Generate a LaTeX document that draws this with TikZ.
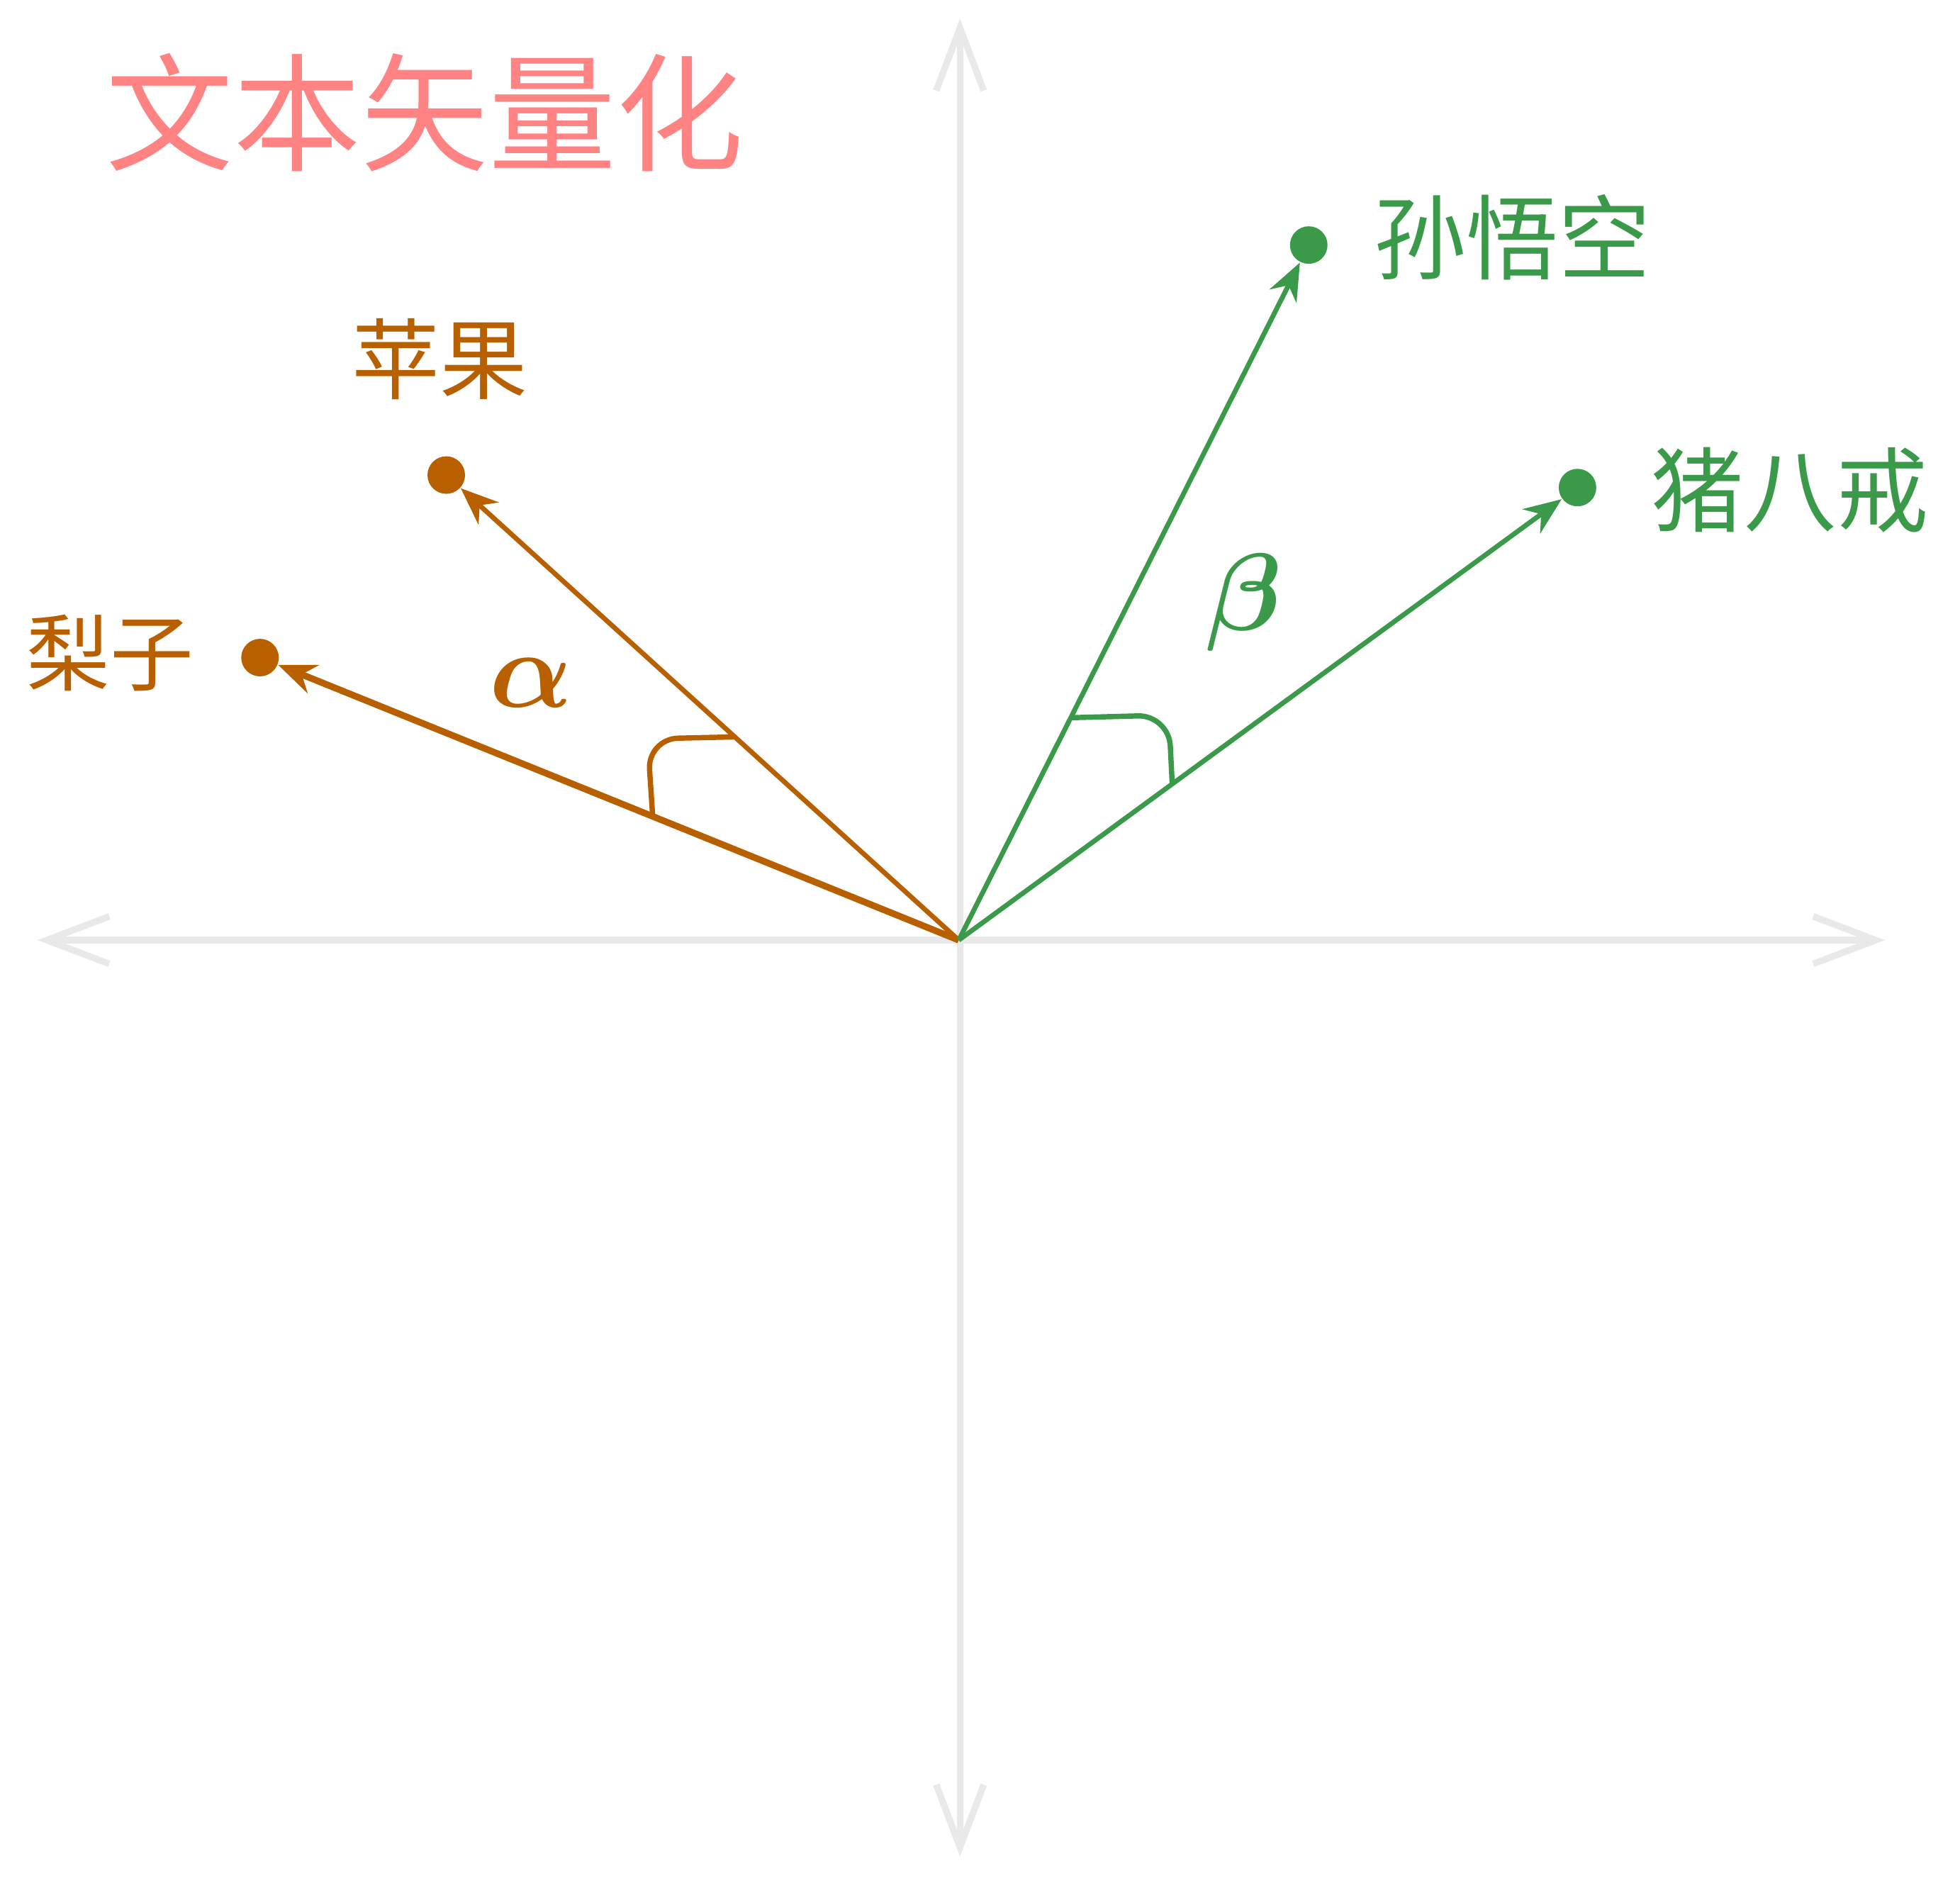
\documentclass[tikz,border=0pt]{standalone}
\usepackage{fontspec}
\newfontfamily\cjk{Noto Sans CJK SC}
\usetikzlibrary{arrows.meta,calc}
\definecolor{titlered}{HTML}{FF8383}
\definecolor{fruit}{HTML}{B86000}
\definecolor{monk}{HTML}{3A9A4A}
\definecolor{axisgray}{HTML}{E9E9E9}
\tikzset{
  axisline/.style={axisgray,line width=1.5pt,{Straight Barb[length=0.5cm,width=0.38cm]}-{Straight Barb[length=0.5cm,width=0.38cm]}},
  tipdot/.style={circle,fill,inner sep=0pt,minimum size=0.3cm},
  vec/.style={line width=1.1pt,-{Stealth[length=0.3cm,width=0.24cm]}},
  word/.style={inner sep=0pt,font=\cjk\fontsize{21}{23}\selectfont},
  anglemark/.style={line width=1.2pt,rounded corners=7pt},
  greek/.style={inner sep=0pt,font=\fontsize{27}{29}\selectfont\boldmath}
}
\begin{document}
\begin{tikzpicture}[x=0.01cm,y=-0.01cm]
\useasboundingbox (0,0) rectangle (1568,1502);
% axes
\coordinate (O) at (767,752);
\coordinate (xl) at (30,752);
\coordinate (xr) at (1508,752);
\coordinate (yt) at (768,15);
\coordinate (yb) at (768,1485);
\draw[axisline] (xl)--(xr);
\draw[axisline] (yt)--(yb);
\node[inner sep=0pt,titlered,font=\cjk\fontsize{29}{31}\selectfont] (title) at (340,90) {文本矢量化};
% fruit
\node[tipdot,fruit] (apple) at (357,380) {};
\node[tipdot,fruit] (pear) at (208,526) {};
\node[word,fruit,font=\cjk\fontsize{20}{22}\selectfont] (appletext) at (352,287) {苹果};
\node[word,fruit,font=\cjk\fontsize{19}{21}\selectfont] (peartext) at (88,522) {梨子};
\draw[vec,fruit] (O)--(apple);
\draw[vec,fruit,line width=1.5pt] (O)--(pear);
\draw[anglemark,fruit] ($(O)!0.438!(pear)$) -- (518,591) -- ($(O)!0.437!(apple)$);
\node[greek,fruit] (alpha) at (425,546) {$\alpha$};
% pilgrims
\node[tipdot,monk] (sun) at (1047,196) {};
\node[tipdot,monk] (zhu) at (1262,390) {};
\node[word,monk] (suntext) at (1210,190) {孙悟空};
\node[word,monk] (zhutext) at (1432,392) {猪八戒};
\draw[vec,monk] (O)--(sun);
\draw[vec,monk] (O)--(zhu);
\draw[anglemark,monk] ($(O)!0.32!(sun)$) -- (935,572) -- ($(O)!0.345!(zhu)$);
\node[greek,monk] (beta) at (995,482) {$\beta$};
\end{tikzpicture}
\end{document}
